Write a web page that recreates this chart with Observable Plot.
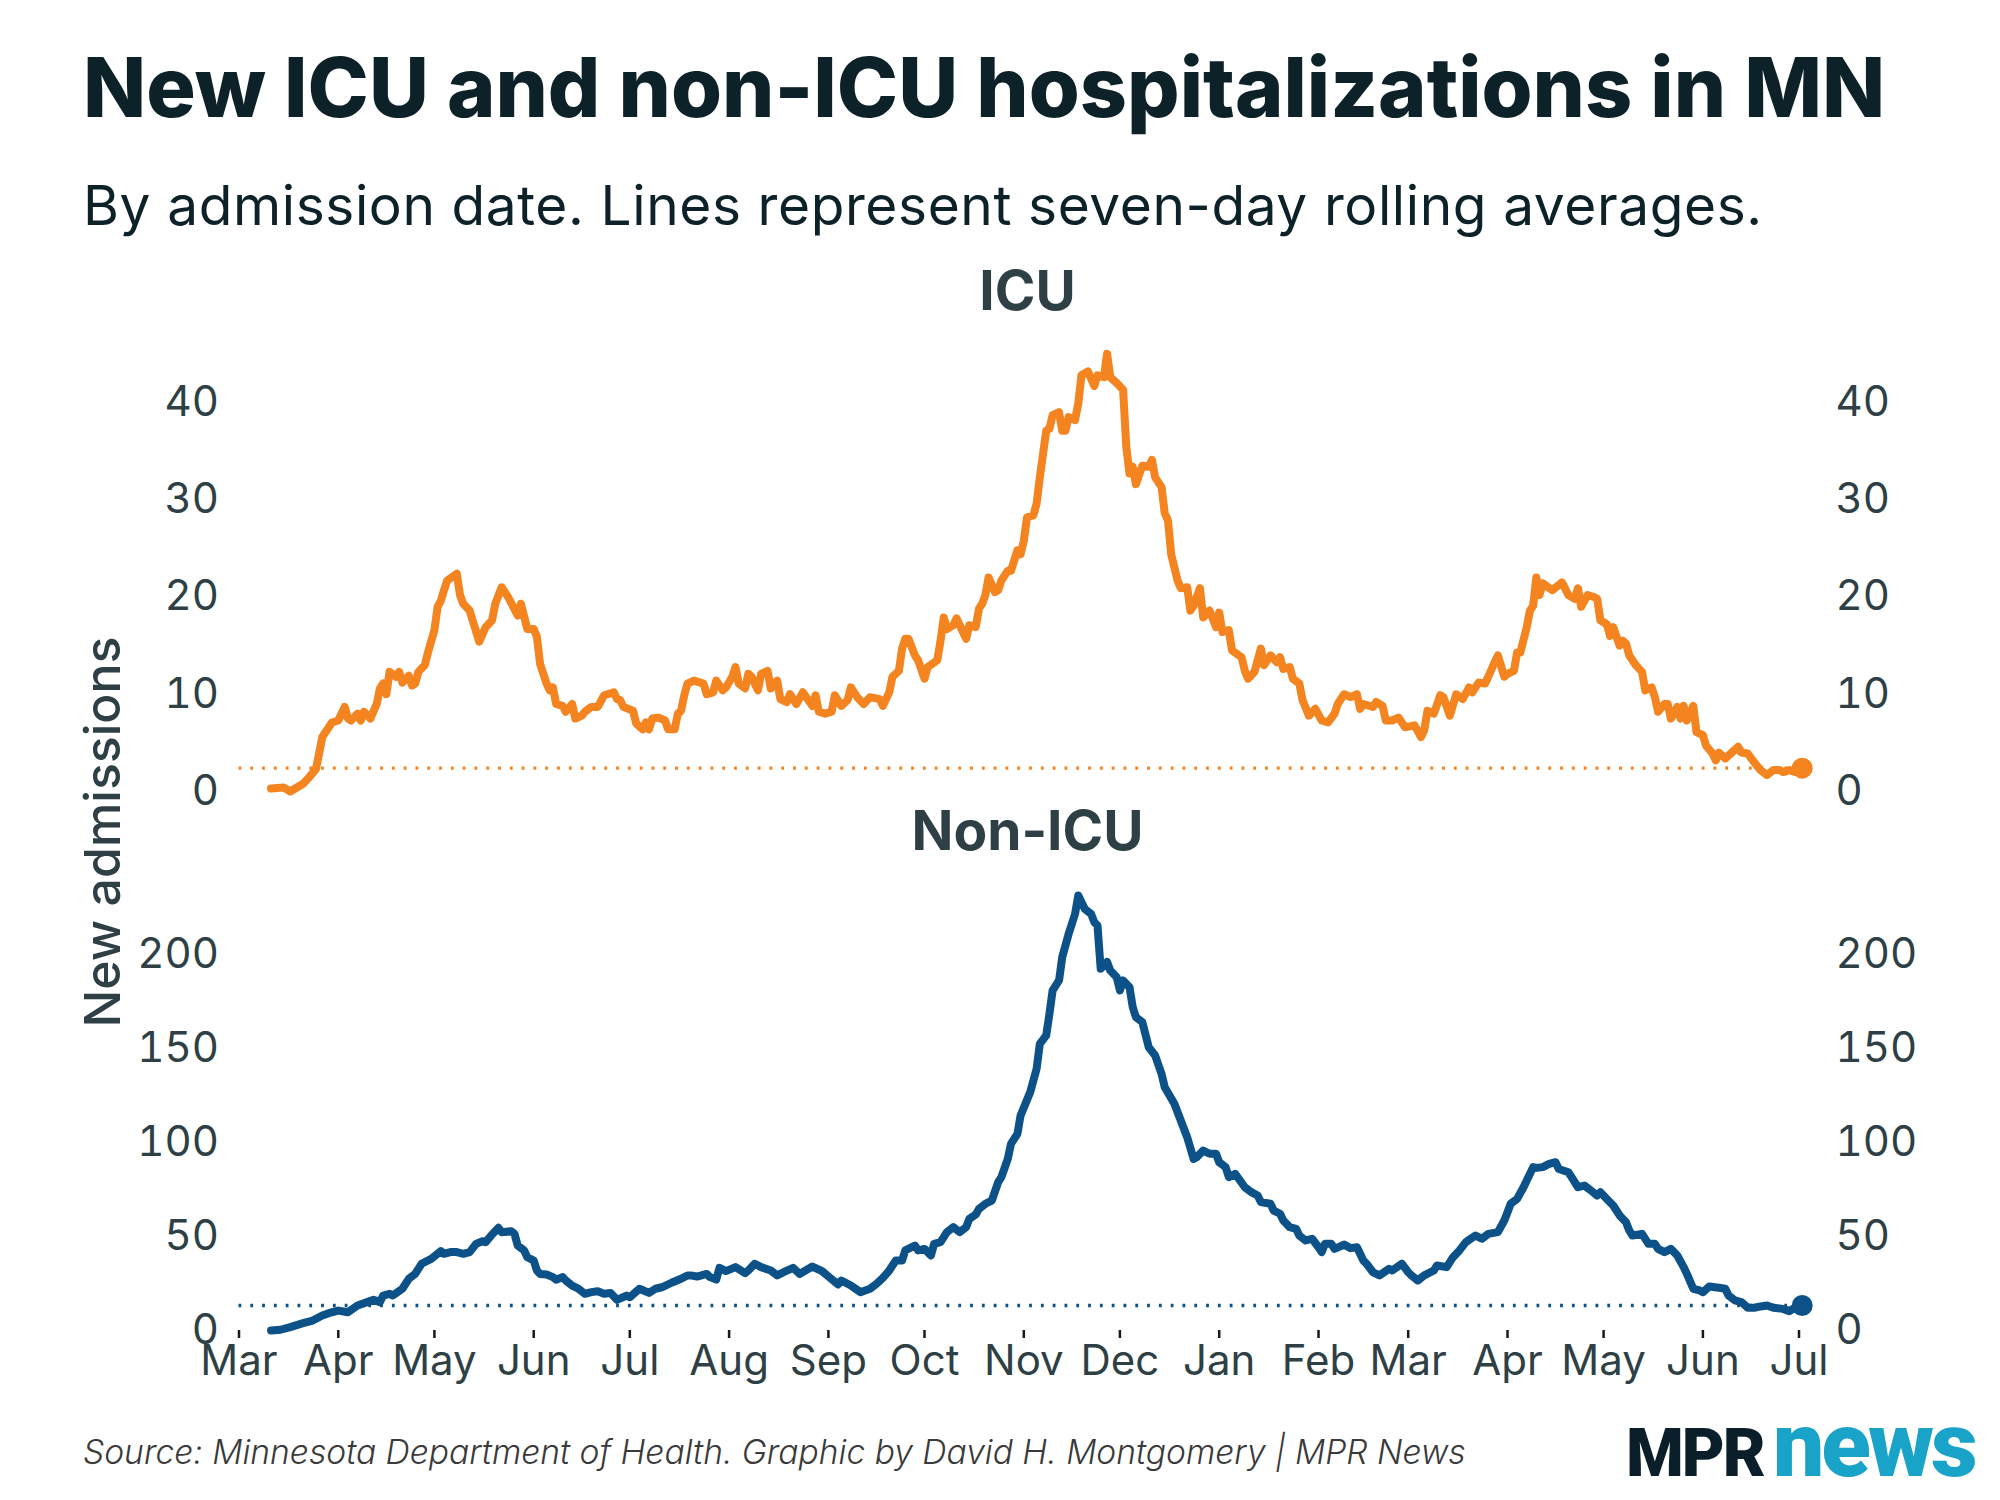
<!DOCTYPE html>
<html>
<head>
<meta charset="utf-8">
<script src="https://cdn.jsdelivr.net/npm/d3@7"></script>
<script src="https://cdn.jsdelivr.net/npm/@observablehq/plot@0.6"></script>
<style>
  html, body { margin: 0; padding: 0; background: #ffffff; }
  #wrap { position: relative; width: 2000px; height: 1500px; overflow: hidden; font-family: Inter, sans-serif; background: #fff; }
  .abs { position: absolute; white-space: nowrap; line-height: 1; }
  #title { left: 83px; top: 46px; font-size: 82.5px; font-weight: 800; color: #0d2228; }
  #subtitle { left: 83px; top: 178px; font-size: 55px; font-weight: 400; color: #0d2228; letter-spacing: 0.6px; }
  #ylabel { left: 102px; top: 832px; font-size: 50px; font-weight: 500; color: #2e3f46; transform: translate(-50%, -50%) rotate(-90deg); }
  #caption { left: 83px; top: 1435px; font-size: 33.6px; font-style: italic; font-weight: 300; color: #3a3a3a; }
  #mpr { left: 1626px; top: 1421px; font-family: Roboto, sans-serif; font-size: 66px; font-weight: 900; color: #0b1f2b; letter-spacing: -2px; }
  #news { left: 1773px; top: 1400px; font-family: Roboto, sans-serif; font-size: 91px; font-weight: 900; color: #1aa3c8; letter-spacing: -3px; }
  svg.panel { position: absolute; left: 0; overflow: visible; }
</style>
</head>
<body>
<div id="wrap">
  <div id="title" class="abs">New ICU and non-ICU hospitalizations in MN</div>
  <div id="subtitle" class="abs">By admission date. Lines represent seven-day rolling averages.</div>
  <div id="ylabel" class="abs">New admissions</div>
  <div id="caption" class="abs">Source: Minnesota Department of Health. Graphic by David H. Montgomery | MPR News</div>
  <div id="mpr" class="abs">MPR</div>
  <div id="news" class="abs">news</div>
</div>
<script>
// Days since 2020-03-01 and seven-day averages
const icuDays = [10,14,16,20,22,24,25,26,29,31,33,34,35,37,38,39,41,43,44,45,46,47,49,50,51,53,54,55,56,58,59,61,62,63,64,65,68,69,70,72,75,77,79,80,82,84,87,88,90,92,93,94,96,97,98,99,101,102,104,105,107,108,110,112,114,117,118,119,120,123,124,126,127,128,129,131,133,134,136,137,138,139,140,142,145,146,148,149,151,152,154,155,156,158,159,160,162,163,165,166,168,169,171,172,174,176,179,180,181,183,185,186,188,190,191,193,195,197,200,201,203,204,206,207,208,209,211,212,214,215,218,219,220,221,223,224,226,227,228,230,231,232,233,234,236,237,238,240,241,243,244,245,246,248,249,250,251,252,253,254,256,257,258,259,261,262,263,264,265,267,268,270,271,272,274,276,277,278,279,280,282,284,285,286,288,289,290,291,293,294,296,297,298,300,301,303,305,306,307,309,310,313,314,315,317,318,319,320,322,324,325,326,328,329,331,332,334,336,338,340,342,343,345,347,349,350,351,354,355,357,358,360,362,364,367,369,370,371,373,375,376,378,380,382,384,385,387,389,390,392,393,395,396,398,399,400,402,403,404,405,406,407,410,413,415,417,418,419,421,423,424,425,427,428,429,431,432,433,434,436,438,439,441,442,443,445,446,447,449,450,451,452,454,455,457,458,460,461,462,464,465,468,469,471,473,475,477,479,481,482,484,486,488];
const icuValues = [0.3,0.4,0.0,0.8,1.5,2.3,3.9,5.6,7.1,7.3,8.7,7.5,7.3,8.0,7.3,8.2,7.5,9.0,10.6,11.1,10.0,12.3,11.8,12.3,11.2,11.9,10.9,11.1,12.3,13.0,14.3,16.6,19.0,19.6,20.7,21.7,22.4,20.2,19.3,18.6,15.4,16.9,17.6,19.3,21.0,20.0,18.1,19.3,16.7,16.7,15.9,13.1,11.1,10.4,10.7,9.0,8.8,8.2,9.0,7.5,7.8,8.2,8.7,8.7,9.9,10.2,9.5,9.4,8.7,8.3,7.0,6.4,7.1,6.4,7.5,7.6,7.3,6.4,6.4,8.0,8.3,9.9,11.1,11.4,11.1,10.0,10.2,11.4,10.4,10.7,11.8,12.8,11.1,10.6,12.1,11.8,10.4,12.1,12.4,10.6,11.4,9.5,9.2,10.0,9.0,10.2,8.8,9.9,8.2,8.0,8.2,9.9,8.8,9.4,10.7,9.7,9.0,9.7,9.5,8.8,10.2,11.8,12.4,14.7,15.7,15.7,14.0,13.5,11.6,12.8,13.5,15.5,17.9,16.7,17.1,17.8,16.4,15.7,17.1,16.9,18.8,19.3,20.2,22.0,20.5,20.7,21.7,22.7,22.7,24.8,24.4,25.8,28.2,28.4,29.6,32.3,34.7,37.1,37.3,38.7,39.0,37.1,37.1,38.5,38.2,39.9,42.8,43.0,43.2,41.7,42.8,42.6,45.0,42.6,42.0,41.3,35.4,32.7,33.4,31.6,33.5,33.4,34.1,32.3,31.3,28.6,27.9,24.4,21.7,20.9,21.0,18.6,19.1,20.9,17.9,18.6,16.9,18.4,16.4,16.6,14.5,13.8,12.4,11.6,12.3,13.5,14.7,13.0,14.0,13.3,13.8,12.6,12.8,11.6,11.1,9.4,7.8,8.5,7.3,7.1,8.0,9.0,10.0,9.7,10.0,8.5,9.0,8.7,9.2,8.8,7.3,7.3,7.6,6.6,6.8,5.6,6.3,8.3,8.0,9.9,9.7,7.8,10.0,9.5,10.7,10.2,11.2,11.1,11.8,13.3,14.0,11.8,12.1,12.4,14.3,14.3,16.9,18.6,19.1,22.0,20.2,21.4,20.7,21.5,20.2,19.8,20.9,19.0,20.2,20.0,19.8,17.6,17.2,16.0,16.9,15.0,15.5,15.2,14.0,13.0,12.3,10.4,10.7,9.7,8.2,9.0,9.0,7.5,8.7,7.5,8.8,7.3,8.8,6.1,5.8,4.7,3.9,3.2,4.0,3.4,3.7,4.6,4.0,3.9,3.0,2.2,1.7,2.2,2.2,2.0,2.2,2.0,2.4];

const nonIcuDays = [10,13,16,20,23,26,28,31,34,37,40,42,44,45,47,48,51,53,55,57,60,63,64,66,68,70,72,74,76,77,79,81,82,85,86,87,89,90,92,93,94,96,98,99,101,102,104,106,108,110,112,114,116,118,121,122,125,128,130,132,135,138,140,141,143,146,147,149,150,152,155,158,159,161,163,166,168,170,173,175,179,182,184,187,188,191,194,197,199,201,203,205,207,208,211,212,214,216,217,219,221,223,225,227,228,230,231,233,235,237,238,240,241,243,244,247,249,250,252,253,254,256,257,259,260,261,262,264,266,267,268,269,271,272,274,275,276,278,279,280,282,284,286,288,289,292,294,296,298,299,301,303,305,306,308,309,311,314,316,318,319,322,323,325,326,328,330,331,333,335,337,338,339,341,342,345,347,349,351,352,354,356,359,360,363,365,366,368,370,373,374,377,379,381,383,386,388,390,393,395,396,397,399,401,404,405,407,409,411,412,415,416,418,420,422,424,425,427,429,431,433,434,435,438,440,442,443,445,447,449,451,452,454,456,457,459,462,464,465,467,469,471,473,475,477,479,482,484,486,488];
const nonIcuValues = [0,0.4,1.8,3.9,5.3,8.0,9.2,10.6,9.7,13.3,15.1,16.3,15.1,18.6,19.5,18.6,22.2,27.5,30.1,35.5,38.1,42.2,40.8,41.7,41.7,40.8,41.7,46.1,47.5,47.0,51.1,54.6,52.3,52.8,51.4,45.2,42.6,39.0,37.2,31.9,30.1,29.8,28.4,27.0,28.4,26.6,23.9,22.2,19.5,20.4,20.9,19.5,19.9,16.3,18.6,17.7,22.2,20.0,22.2,23.0,25.4,27.5,29.3,29.3,28.7,30.1,28.4,27.1,33.3,31.6,33.7,30.5,31.9,35.5,33.7,31.9,29.3,31.0,33.3,30.1,34.0,31.6,28.7,24.5,26.6,23.9,20.4,22.2,24.8,28.0,31.9,37.2,37.2,42.6,45.2,42.6,43.4,39.9,46.1,47.0,52.3,55.0,52.3,55.0,59.4,61.7,64.7,67.4,69.1,78.9,81.6,91.3,99.3,104.6,114.4,126.8,139.2,152.5,157.0,168.4,180.9,186.2,198.6,211.0,216.3,221.6,231.4,224.3,221.6,217.2,215.4,192.4,196.0,191.5,187.9,180.9,186.2,182.6,172.0,166.7,164.0,150.7,146.3,136.5,129.4,120.6,111.7,102.8,91.3,92.2,95.7,94.0,94.0,89.5,86.9,81.6,83.3,76.2,73.6,71.8,68.3,67.4,63.8,62.1,58.5,55.0,54.1,50.5,47.9,48.8,44.3,41.7,46.1,46.1,43.4,45.7,43.8,44.3,37.2,35.5,31.0,29.3,32.8,31.9,35.5,31.0,29.3,26.6,29.3,31.9,34.6,33.7,39.0,42.6,47.0,50.5,48.8,51.4,52.3,58.5,62.9,67.4,70.0,76.2,86.9,86.5,86.9,88.6,89.5,85.9,84.2,81.6,76.2,77.1,74.5,71.8,73.6,70.0,66.5,61.2,57.6,53.2,50.5,51.4,46.1,46.1,43.4,41.7,43.4,39.9,33.7,30.1,22.2,21.3,20.4,23.4,22.7,22.2,18.6,16.0,15.1,12.1,12.1,12.8,13.3,12.1,11.5,10.3,12.4,13.3];

const monthTicks = ["2020-03-01","2020-04-01","2020-05-01","2020-06-01","2020-07-01","2020-08-01","2020-09-01","2020-10-01","2020-11-01","2020-12-01","2021-01-01","2021-02-01","2021-03-01","2021-04-01","2021-05-01","2021-06-01","2021-07-01"];
const icuTicks = [0, 10, 20, 30, 40];
const nonIcuTicks = [0, 50, 100, 150, 200];
const panelTitles = ["ICU", "Non-ICU"];

const ORANGE = "#f4841f";
const BLUE = "#0c5289";
const TEXT = "#2e3f46";

const start = Date.UTC(2020, 2, 1);
const toDate = d => new Date(start + d * 864e5);
const xDomain = [new Date(monthTicks[0]), new Date(monthTicks[monthTicks.length - 1])];
const tickDates = monthTicks.map(s => new Date(s));

function makePanel({days, values, color, ticks, title, titleY, top, height, marginTop, marginBottom, xAxis}) {
  const data = days.map((d, i) => ({date: toDate(d), value: values[i]}));
  const last = data[data.length - 1];
  const marks = [
    Plot.ruleY([last], {y: "value", x1: () => xDomain[0], x2: "date", stroke: color, strokeWidth: 3.3, strokeDasharray: "2.8 9"}),
    Plot.line(data, {x: "date", y: "value", stroke: color, strokeWidth: 8, strokeLinejoin: "round", strokeLinecap: "round"}),
    Plot.dot([last], {x: "date", y: "value", r: 10.5, fill: color, stroke: "none"}),
    Plot.axisY({anchor: "left", ticks, tickSize: 0, tickPadding: 20, fontSize: 42, fill: TEXT, label: null}),
    Plot.axisY({anchor: "right", ticks, tickSize: 0, tickPadding: 36.5, fontSize: 42, fill: TEXT, label: null}),
    Plot.text([title], {frameAnchor: "top", lineAnchor: "middle", dy: -(marginTop - titleY), dx: 8.5, fontSize: 55, fontWeight: "bold", fill: TEXT})
  ];
  if (xAxis) {
    marks.push(Plot.axisX({ticks: tickDates, tickFormat: d3.utcFormat("%b"), tickSize: 8, tickPadding: 7, fontSize: 42, fill: TEXT, stroke: "#1a1a1a", strokeWidth: 2.5, label: null}));
  }
  const svg = Plot.plot({
    width: 2000,
    height,
    marginLeft: 238.5,
    marginRight: 201.5,
    marginTop,
    marginBottom,
    style: {fontFamily: "Inter, sans-serif", background: "transparent", overflow: "visible"},
    x: {type: "utc", domain: xDomain, axis: xAxis ? undefined : null},
    y: {domain: [0, ticks[ticks.length - 1]]},
    marks
  });
  svg.classList.add("panel");
  svg.style.top = top + "px";
  svg.style.maxWidth = "none";
  document.getElementById("wrap").appendChild(svg);
}

makePanel({days: icuDays, values: icuValues, color: ORANGE, ticks: icuTicks, title: panelTitles[0], titleY: 42, top: 250, height: 580, marginTop: 152, marginBottom: 39, xAxis: false});
makePanel({days: nonIcuDays, values: nonIcuValues, color: BLUE, ticks: nonIcuTicks, title: panelTitles[1], titleY: 182, top: 650, height: 760, marginTop: 304, marginBottom: 80, xAxis: true});
</script>
</body>
</html>
